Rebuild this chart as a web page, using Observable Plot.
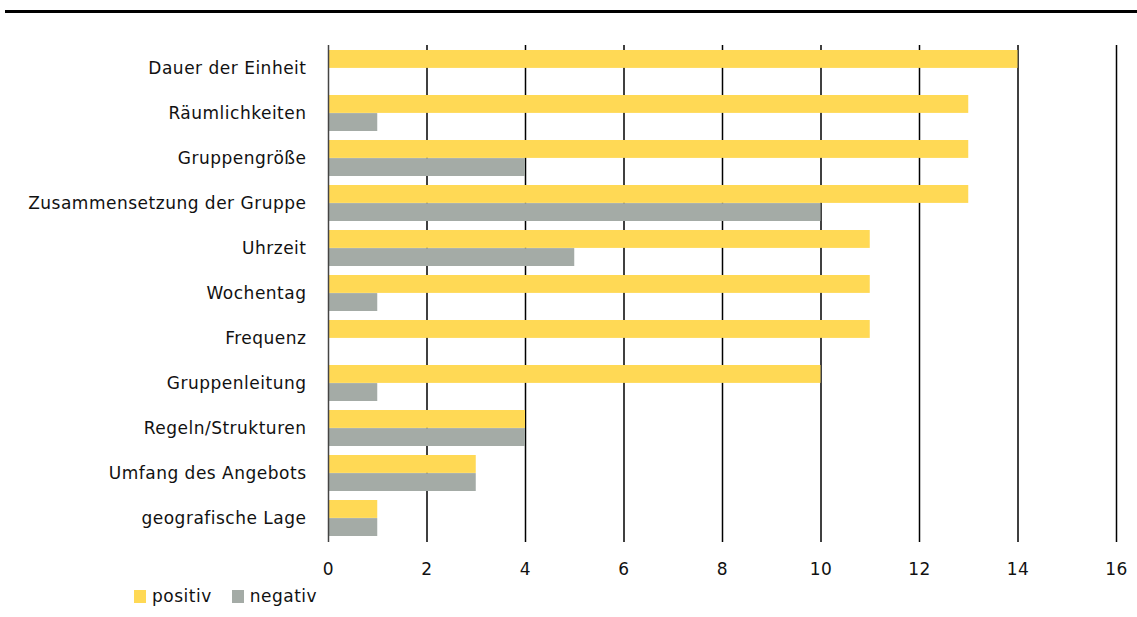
<!DOCTYPE html>
<html>
<head>
<meta charset="utf-8">
<script src="https://cdn.jsdelivr.net/npm/d3@7"></script>
<script src="https://cdn.jsdelivr.net/npm/@observablehq/plot@0.6"></script>
<style>
  body { margin: 0; background: #fff; font-family: "DejaVu Sans", sans-serif; }
  #wrap { position: relative; width: 1137px; height: 617px; }
  #topline { position: absolute; left: 5px; top: 10px; width: 1132px; height: 3px; background: #000; }
  #chart { position: absolute; left: 0; top: 13px; }
  #chart svg text { letter-spacing: 0.5px; }
  #legend { position: absolute; left: 134px; top: 586px; font-size: 17px; letter-spacing: 0.5px; color: #111; display: flex; align-items: center; }
  #legend .sw { display: inline-block; width: 12px; height: 13px; margin-right: 6px; }
  #legend .item { display: flex; align-items: center; margin-right: 20px; }
</style>
</head>
<body>
<div id="wrap">
  <div id="topline"></div>
  <div id="chart"></div>
  <div id="legend"></div>
</div>
<script>
const categories = [
  "Dauer der Einheit", "Räumlichkeiten", "Gruppengröße", "Zusammensetzung der Gruppe",
  "Uhrzeit", "Wochentag", "Frequenz", "Gruppenleitung", "Regeln/Strukturen",
  "Umfang des Angebots", "geografische Lage"
];
const positiv = [14, 13, 13, 13, 11, 11, 11, 10, 4, 3, 1];
const negativ = [0, 1, 4, 10, 5, 1, 0, 1, 4, 3, 1];
const seriesNames = ["positiv", "negativ"];
const seriesColors = ["#FFD955", "#A4ABA6"];
const xTicks = [0, 2, 4, 6, 8, 10, 12, 14, 16];

const posData = categories.map((c, i) => ({category: c, value: positiv[i]}));
const negData = categories.map((c, i) => ({category: c, value: negativ[i]})).filter(d => d.value > 0);

const half = 18.1;
const chart = Plot.plot({
  width: 1137,
  height: 575,
  marginTop: 32,
  marginBottom: 46,
  marginLeft: 328,
  marginRight: 21,
  style: {fontFamily: "DejaVu Sans, sans-serif", fontSize: "17px", color: "#111", background: "transparent"},
  x: {domain: [0, 16], ticks: xTicks, tickSize: 0, tickPadding: 20, label: null, tickFormat: d => String(d)},
  y: {domain: categories, paddingInner: 0.2, paddingOuter: 0.1, tickSize: 0, tickPadding: 22, label: null},
  marks: [
    Plot.ruleX(xTicks.filter(t => t > 0), {stroke: "#000", strokeWidth: 1.5}),
    Plot.barX(posData, {x: "value", y: "category", fill: seriesColors[0], insetBottom: half, insetTop: 0}),
    Plot.barX(negData, {x: "value", y: "category", fill: seriesColors[1], insetTop: half, insetBottom: 0}),
    Plot.ruleX([0], {stroke: "#444", strokeWidth: 1.5})
  ]
});
document.getElementById("chart").appendChild(chart);

const legend = document.getElementById("legend");
seriesNames.forEach((n, i) => {
  const item = document.createElement("span");
  item.className = "item";
  const sw = document.createElement("span");
  sw.className = "sw";
  sw.style.background = seriesColors[i];
  item.appendChild(sw);
  item.appendChild(document.createTextNode(n));
  legend.appendChild(item);
});
</script>
</body>
</html>
